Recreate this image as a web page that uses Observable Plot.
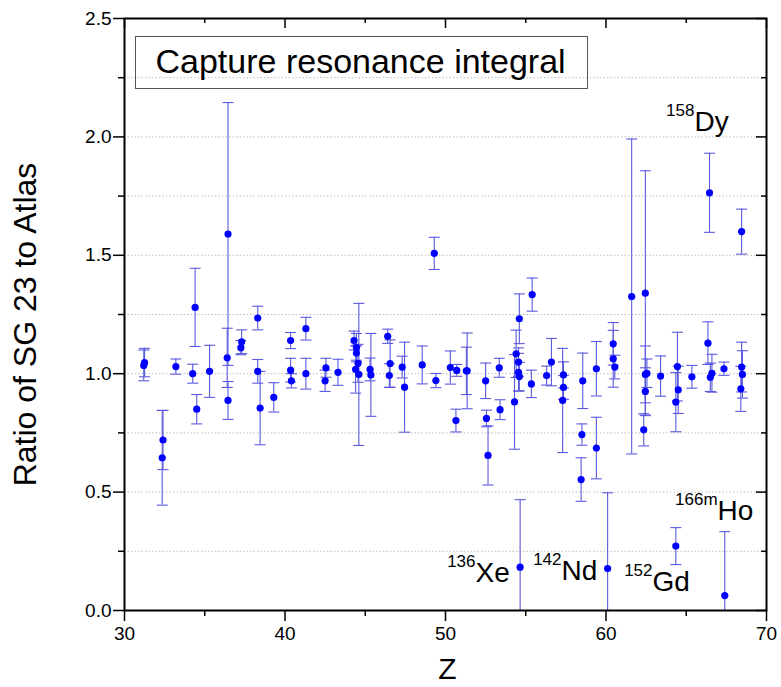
<!DOCTYPE html>
<html>
<head>
<meta charset="utf-8">
<script src="https://cdn.jsdelivr.net/npm/d3@7"></script>
<script src="https://cdn.jsdelivr.net/npm/@observablehq/plot@0.6"></script>
<style>
  html, body { margin: 0; padding: 0; background: #fff; }
  svg { display: block; }
</style>
</head>
<body>
<div id="chart"></div>
<script>
// ---- data ----
const Z = [31.25, 31.2, 32.4, 32.35, 33.2, 34.25, 34.4, 34.5, 35.3, 36.45, 36.4, 36.45, 37.3, 37.25,
  38.3, 38.3, 38.45, 39.3, 40.35, 40.35, 40.4, 41.3, 41.3, 42.55, 42.5, 43.3,
  44.3, 44.45, 44.45, 44.55, 44.4, 44.6, 45.3, 45.35, 46.4, 46.55, 46.5, 47.3, 47.45, 48.55,
  49.3, 49.4, 50.3, 50.7, 50.65, 51.35, 51.3, 52.5, 52.55, 52.65, 53.35, 53.4,
  54.4, 54.3, 54.6, 54.55, 54.55, 54.6, 54.65, 55.4, 55.35, 56.3, 56.6, 57.35, 57.35, 57.3,
  58.55, 58.5, 58.45, 59.4, 59.4, 60.1, 60.45, 60.45, 60.55, 61.6,
  62.45, 62.35, 62.45, 62.55, 62.45, 63.4, 64.45, 64.5, 64.35, 64.35, 65.35,
  66.35, 66.6, 66.5, 66.45, 67.35, 67.4, 68.45, 68.5, 68.4, 68.45];
const ratio = [1.047, 1.035, 0.72, 0.645, 1.03, 1.0, 1.28, 0.85, 1.01, 1.59, 1.067, 0.887, 1.135, 1.11,
  1.235, 1.01, 0.855, 0.9, 1.14, 1.015, 0.97, 1.19, 1.0, 1.025, 0.97, 1.006,
  1.14, 1.11, 1.087, 1.044, 1.018, 0.997, 1.018, 0.995, 1.158, 1.043, 0.992, 1.028, 0.943, 1.037,
  1.508, 0.971, 1.026, 1.014, 0.802, 1.012, 1.012, 0.97, 0.811, 0.655, 1.025, 0.848,
  1.084, 0.881, 1.232, 1.049, 1.006, 0.988, 0.183, 1.334, 0.957, 0.992, 1.049, 0.995, 0.942, 0.887,
  0.97, 0.743, 0.553, 1.021, 0.686, 0.177, 1.126, 1.063, 1.028, 1.326,
  1.34, 0.763, 0.997, 1.002, 0.925, 0.99, 1.03, 0.932, 0.88, 0.272, 0.987,
  1.129, 1.002, 0.985, 1.764, 1.021, 0.063, 1.028, 0.997, 0.936, 1.6];
const err = [0.06, 0.065, 0.125, 0.2, 0.032, 0.04, 0.165, 0.062, 0.11, 0.555, 0.125, 0.08, 0.05, 0.03,
  0.05, 0.05, 0.155, 0.062, 0.034, 0.05, 0.03, 0.048, 0.065, 0.04, 0.045, 0.055,
  0.04, 0.06, 0.03, 0.08, 0.1, 0.3, 0.048, 0.175, 0.03, 0.1, 0.05, 0.046, 0.19, 0.08,
  0.068, 0.03, 0.07, 0.025, 0.048, 0.16, 0.1, 0.075, 0.035, 0.125, 0.04, 0.042,
  0.1, 0.2, 0.105, 0.06, 0.08, 0.06, 0.285, 0.07, 0.058, 0.04, 0.1, 0.055, 0.05, 0.22,
  0.117, 0.045, 0.092, 0.115, 0.13, 0.32, 0.09, 0.12, 0.05, 0.665,
  0.517, 0.068, 0.12, 0.06, 0.1, 0.085, 0.145, 0.1, 0.125, 0.078, 0.048,
  0.09, 0.08, 0.06, 0.167, 0.028, 0.27, 0.105, 0.1, 0.095, 0.095];

// isotope annotations
const isoMass = ["136", "142", "152", "166m", "158"];
const isoElem = ["Xe", "Nd", "Gd", "Ho", "Dy"];
const isoZ = [51.87, 57.23, 62.9, 66.95, 65.51];
const isoRatio = [0.122, 0.127, 0.084, 0.384, 2.027];

// axes
const xMajor = [30, 40, 50, 60, 70];
const xMinor = [35, 45, 55, 65];
const yMajor = [0, 0.5, 1.0, 1.5, 2.0, 2.5];
const yMinor = [0.25, 0.75, 1.25, 1.75, 2.25];
const gridVals = [0.25, 0.5, 0.75, 1.0, 1.25, 1.5, 1.75, 2.0, 2.25];

const titleText = "Capture resonance integral";
const xLabel = "Z";
const yLabel = "Ratio of SG 23 to Atlas";

// ---- build ----
const rows = Z.map((z, i) => ({z, v: ratio[i], lo: ratio[i] - err[i], hi: ratio[i] + err[i]}));
const isoRows = isoMass.map((m, i) => ({m, e: isoElem[i], z: isoZ[i], v: isoRatio[i]}));

const capSymbol = {
  draw(context, size) {
    const r = Math.sqrt(size / Math.PI);
    context.moveTo(-r, 0);
    context.lineTo(r, 0);
  }
};

const barColor = "#5a5ade";
const noText = () => "";

const chart = Plot.plot({
  width: 781,
  height: 687,
  marginLeft: 124,
  marginRight: 15,
  marginTop: 18,
  marginBottom: 77,
  style: {fontFamily: "'Liberation Sans', Arial, sans-serif", fontSize: "19px", background: "#fff", color: "#000"},
  x: {domain: [30, 70], label: null},
  y: {domain: [0, 2.5], label: null},
  marks: [
    Plot.gridY(gridVals, {stroke: "#bdbdbd", strokeOpacity: 1, strokeDasharray: "1.5 2"}),
    Plot.ruleX(rows, {x: "z", y1: "lo", y2: "hi", stroke: barColor, strokeWidth: 1.1, clip: true}),
    Plot.dot(rows, {x: "z", y: "lo", symbol: capSymbol, r: 5.5, stroke: barColor, strokeWidth: 1.1, fill: "none", clip: true}),
    Plot.dot(rows, {x: "z", y: "hi", symbol: capSymbol, r: 5.5, stroke: barColor, strokeWidth: 1.1, fill: "none", clip: true}),
    Plot.dot(rows, {x: "z", y: "v", r: 3.6, fill: "#0000ff", stroke: "none"}),
    // title box
    Plot.frame({stroke: "#555", strokeWidth: 1, insetLeft: 11, insetTop: 18, insetRight: 179, insetBottom: 522}),
    Plot.text([titleText], {frameAnchor: "top-left", dx: 31, dy: 43.5, textAnchor: "start", lineAnchor: "middle", fontSize: 34, fill: "#000"}),
    // isotope labels
    Plot.text(isoRows, {x: "z", y: "v", text: "e", textAnchor: "start", lineAnchor: "bottom", fontSize: 28, fill: "#000"}),
    Plot.text(isoRows, {x: "z", y: "v", text: "m", textAnchor: "end", lineAnchor: "bottom", dy: -15, fontSize: 17, fill: "#000"}),
    // frame
    Plot.frame({stroke: "#000", strokeWidth: 2}),
    // left / bottom outward ticks with labels
    Plot.axisY(yMajor, {anchor: "left", tickSize: 11, tickPadding: 2, fontSize: 19, strokeWidth: 1.5, tickFormat: d3.format(".1f"), label: null}),
    Plot.axisY(yMinor, {anchor: "left", tickSize: 6, strokeWidth: 1.5, tickFormat: noText, label: null}),
    Plot.axisX(xMajor, {anchor: "bottom", tickSize: 11, tickPadding: 5, fontSize: 19, strokeWidth: 1.5, tickFormat: d3.format("d"), label: null}),
    Plot.axisX(xMinor, {anchor: "bottom", tickSize: 6, strokeWidth: 1.5, tickFormat: noText, label: null}),
    // top / right inward ticks
    Plot.axisX(xMajor, {anchor: "bottom", frameAnchor: "top", tickSize: 10, strokeWidth: 1.5, tickFormat: noText, label: null}),
    Plot.axisX(xMinor, {anchor: "bottom", frameAnchor: "top", tickSize: 5, strokeWidth: 1.5, tickFormat: noText, label: null}),
    Plot.axisY(yMajor, {anchor: "left", frameAnchor: "right", tickSize: 10, strokeWidth: 1.5, tickFormat: noText, label: null}),
    Plot.axisY(yMinor, {anchor: "left", frameAnchor: "right", tickSize: 5, strokeWidth: 1.5, tickFormat: noText, label: null}),
    // axis titles
    Plot.text([yLabel], {frameAnchor: "left", dx: -99, dy: 10, rotate: -90, textAnchor: "middle", lineAnchor: "middle", fontSize: 32, fill: "#000"}),
    Plot.text([xLabel], {frameAnchor: "bottom", dx: 2, dy: 59, textAnchor: "middle", lineAnchor: "middle", fontSize: 30, fill: "#000"})
  ]
});

document.getElementById("chart").appendChild(chart);
</script>
</body>
</html>
